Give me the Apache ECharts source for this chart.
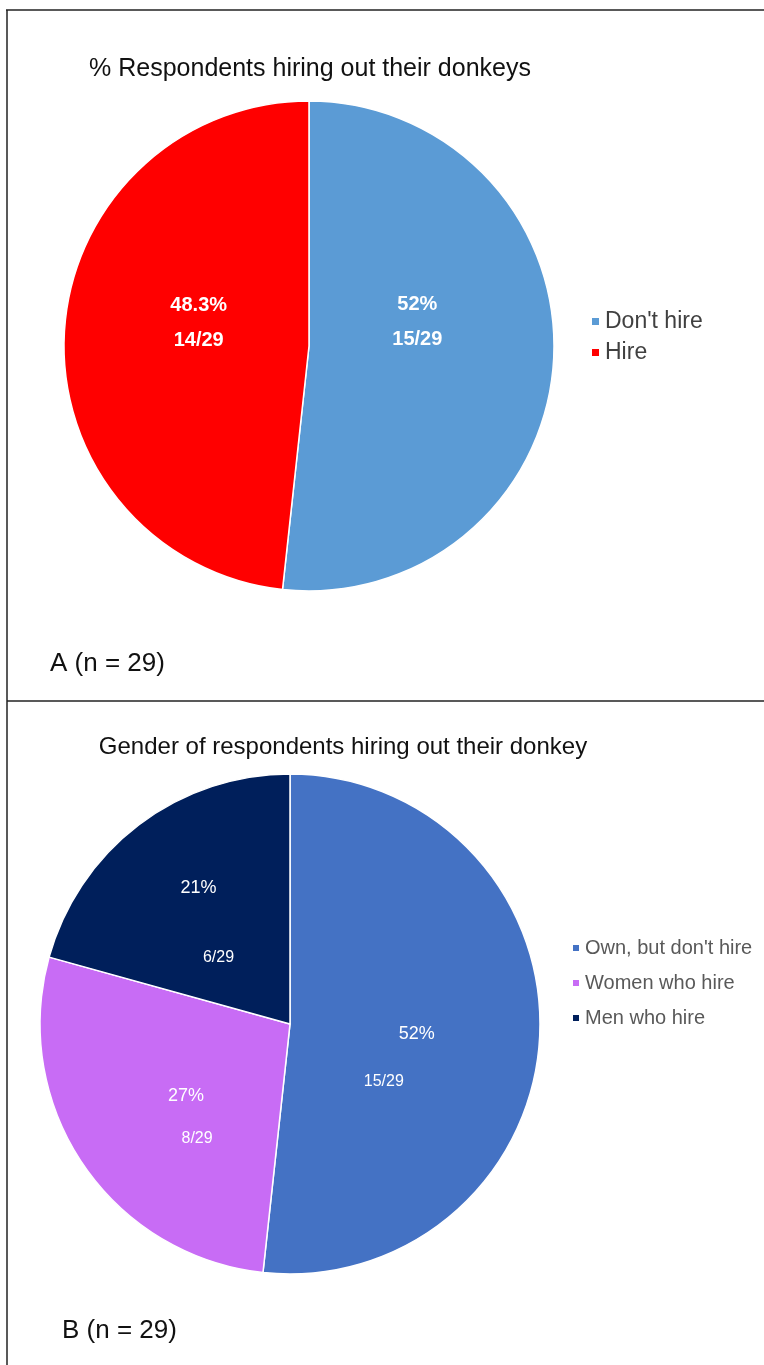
<!DOCTYPE html>
<html><head><meta charset="utf-8">
<script src="https://cdn.jsdelivr.net/npm/echarts@6/dist/echarts.min.js"></script>
<style>html,body{margin:0;padding:0;background:#fff}#c{width:764px;height:1365px}</style>
</head><body><div id="c"></div>
<script>
const namesA = ["Don't hire", "Hire"];
const valuesA = [15, 14];
const pctA = ["52%", "48.3%"];
const namesB = ["Own, but don't hire", "Women who hire", "Men who hire"];
const valuesB = [15, 8, 6];
const pctB = ["52%", "27%", "21%"];
const totalN = 29;
const titleA = "% Respondents hiring out their donkeys";
const titleB = "Gender of respondents hiring out their donkey";
const noteA = "A (n = 29)";
const noteB = "B (n = 29)";
const colorsA = ['#5B9BD5', '#FF0000'];
const colorsB = ['#4472C4', '#C86CF5', '#001F5B'];

// label offsets relative to default inside label anchors
const offPctA = [[-17, -48], [15, -34]];
const offFracA = [[-17, -13], [15, 1]];
const offPctB = [[-1, 3], [2, 0], [-14, -34]];
const offFracB = [[-34, 51], [13, 43], [6, 35]];

const chart = echarts.init(document.getElementById('c'));
const font = "'Liberation Sans', Arial, sans-serif";

function mkData(names, values, colors, transparent) {
  return names.map((n, i) => ({
    name: n, value: values[i],
    itemStyle: transparent ? {color: 'rgba(0,0,0,0)', borderWidth: 0} : {color: colors[i]}
  }));
}
function layoutFn(off) {
  return p => ({dx: off[p.dataIndex][0], dy: off[p.dataIndex][1]});
}
const baseA = {type: 'pie', center: [309, 346], radius: [0, 245], startAngle: 90, clockwise: true,
  animation: false, labelLine: {show: false}, emphasis: {disabled: true}};
const baseB = {type: 'pie', center: [290, 1024], radius: [0, 250], startAngle: 90, clockwise: true,
  animation: false, labelLine: {show: false}, emphasis: {disabled: true}};

chart.setOption({
  backgroundColor: '#fff',
  animation: false,
  legend: [
    {data: namesA, orient: 'vertical', left: 585, top: 305, icon: 'rect', itemWidth: 9, itemHeight: 9,
     itemGap: 8, textStyle: {fontFamily: font, fontSize: 23, color: '#404040'}, selectedMode: false},
    {data: namesB, orient: 'vertical', left: 566, top: 933, icon: 'rect', itemWidth: 8, itemHeight: 8,
     itemGap: 15, textStyle: {fontFamily: font, fontSize: 20, color: '#595959'}, selectedMode: false}
  ],
  series: [
    Object.assign({}, baseA, {
      name: 'A', data: mkData(namesA, valuesA, colorsA, false),
      itemStyle: {borderColor: '#fff', borderWidth: 1.5},
      label: {show: true, position: 'inside', formatter: p => pctA[p.dataIndex],
        color: '#fff', fontFamily: font, fontWeight: 'bold', fontSize: 20},
      labelLayout: layoutFn(offPctA)
    }),
    Object.assign({}, baseA, {
      name: 'A-frac', silent: true, data: mkData(namesA, valuesA, colorsA, true),
      label: {show: true, position: 'inside', formatter: p => p.value + '/' + totalN,
        color: '#fff', fontFamily: font, fontWeight: 'bold', fontSize: 20},
      labelLayout: layoutFn(offFracA)
    }),
    Object.assign({}, baseB, {
      name: 'B', data: mkData(namesB, valuesB, colorsB, false),
      itemStyle: {borderColor: '#fff', borderWidth: 1.5},
      label: {show: true, position: 'inside', formatter: p => pctB[p.dataIndex],
        color: '#fff', fontFamily: font, fontSize: 18},
      labelLayout: layoutFn(offPctB)
    }),
    Object.assign({}, baseB, {
      name: 'B-frac', silent: true, data: mkData(namesB, valuesB, colorsB, true),
      label: {show: true, position: 'inside', formatter: p => p.value + '/' + totalN,
        color: '#fff', fontFamily: font, fontSize: 16},
      labelLayout: layoutFn(offFracB)
    })
  ],
  graphic: [
    {type: 'line', shape: {x1: 6, y1: 10, x2: 764, y2: 10}, style: {stroke: '#222', lineWidth: 1.5}},
    {type: 'line', shape: {x1: 7, y1: 10, x2: 7, y2: 1365}, style: {stroke: '#222', lineWidth: 1.5}},
    {type: 'line', shape: {x1: 7, y1: 701, x2: 764, y2: 701}, style: {stroke: '#222', lineWidth: 1.5}},
    {type: 'text', x: 310, y: 69, style: {text: titleA, fill: '#111', font: "25px " + font, textAlign: 'center', textVerticalAlign: 'middle'}},
    {type: 'text', x: 343, y: 747, style: {text: titleB, fill: '#111', font: "24px " + font, textAlign: 'center', textVerticalAlign: 'middle'}},
    {type: 'text', x: 50, y: 664, style: {text: noteA, fill: '#111', font: "26px " + font, textAlign: 'left', textVerticalAlign: 'middle'}},
    {type: 'text', x: 62, y: 1331, style: {text: noteB, fill: '#111', font: "26px " + font, textAlign: 'left', textVerticalAlign: 'middle'}}
  ]
});
</script></body></html>
